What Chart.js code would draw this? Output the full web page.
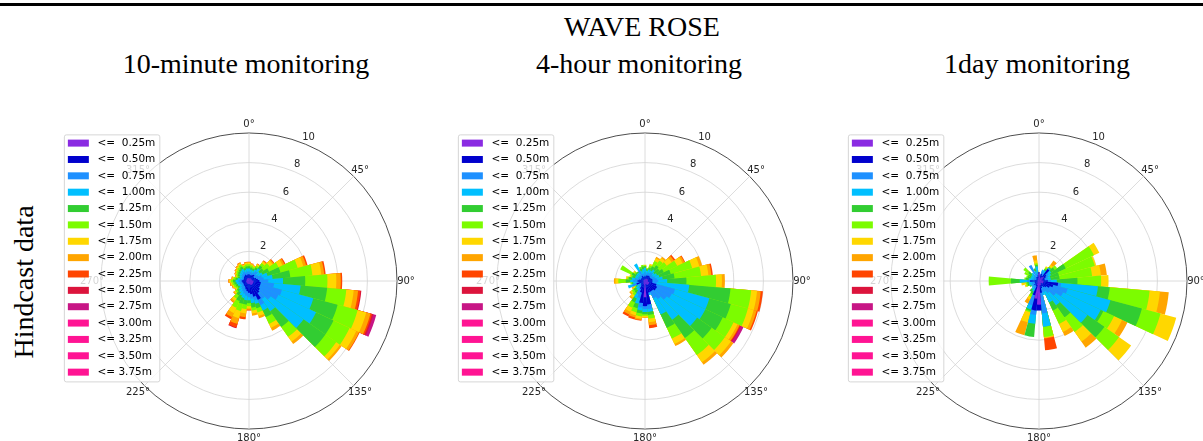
<!DOCTYPE html>
<html>
<head>
<meta charset="utf-8">
<script src="https://cdn.jsdelivr.net/npm/chart.js@4.4.1/dist/chart.umd.min.js"></script>
<style>
  html, body { margin: 0; padding: 0; background: #fff; overflow: hidden; }
  #page { position: relative; width: 1203px; height: 441px; overflow: hidden; }
  .rule { position: absolute; left: 0; top: 3px; width: 1203px; height: 3px; background: #000; }
  .caption { position: absolute; font-family: "Liberation Serif", serif; font-size: 28px; color: #000;
             white-space: nowrap; transform: translateX(-50%); line-height: 28px; }
  .side { position: absolute; left: 24px; top: 282px; font-family: "Liberation Serif", serif; font-size: 28px;
          white-space: nowrap; transform: translate(-50%, -50%) rotate(-90deg); line-height: 28px; }
  canvas { position: absolute; }
</style>
</head>
<body>
<div id="page">
  <div class="rule"></div>
  <div class="caption" style="left:642px; top:13px;">WAVE ROSE</div>
  <div class="caption" style="left:246px; top:50px;">10-minute monitoring</div>
  <div class="caption" style="left:639px; top:50px;">4-hour monitoring</div>
  <div class="caption" style="left:1037px; top:50px;">1day monitoring</div>
  <div class="side">Hindcast data</div>
</div>
<script>
// wave direction sectors (deg, centre of each 10 deg bin)
const directions = [0, 10, 20, 30, 40, 50, 60, 70, 80, 90, 100, 110, 120, 130, 140, 150, 160, 170,
                    180, 190, 200, 210, 220, 230, 240, 250, 260, 270, 280, 290, 300, 310, 320, 330, 340, 350];

const heightClasses = [' <=  0.25m', ' <=  0.50m', ' <=  0.75m', ' <=  1.00m', ' <= 1.25m', ' <= 1.50m',
                       ' <= 1.75m', ' <= 2.00m', ' <= 2.25m', ' <= 2.50m', ' <= 2.75m', ' <= 3.00m',
                       ' <= 3.25m', ' <= 3.50m', ' <= 3.75m'];

const classColours = ['#8a2be2', '#0000cd', '#1e90ff', '#00bfff', '#32cd32', '#7cfc00', '#ffd700', '#ffa500',
                      '#ff4500', '#dc143c', '#c71585', '#ff1493', '#ff1493', '#ff1493', '#ff1493'];

const angleLabels = ['0°', '45°', '90°', '135°', '180°', '225°', '270°', '315°'];
const ringValues = [2, 4, 6, 8, 10];

// cumulative frequency (%) at the top of each height class, one row per direction
const tenMinuteRose = [
  [0.2, 0.45, 0.65, 0.85, 1.0, 1.14, 1.23, 1.29, 1.3],
  [0.18, 0.42, 0.6, 0.78, 0.92, 1.06, 1.14, 1.19, 1.2],
  [0.17, 0.4, 0.58, 0.75, 0.88, 0.98, 1.05, 1.09, 1.1],
  [0.2, 0.46, 0.66, 0.86, 1.02, 1.15, 1.24, 1.29, 1.3],
  [0.22, 0.52, 0.8, 1.05, 1.28, 1.48, 1.6, 1.68, 1.72],
  [0.2, 0.4, 0.6, 0.9, 1.2, 1.7, 1.95, 2.05, 2.1],
  [0.2, 0.4, 0.7, 1.0, 1.5, 2.2, 2.5, 2.65, 2.72],
  [0.2, 0.5, 0.9, 1.3, 2.2, 3.4, 3.8, 4.0, 4.1],
  [0.2, 0.6, 1.0, 1.6, 2.8, 4.3, 4.9, 5.1, 5.2],
  [0.3, 0.7, 1.3, 2.3, 3.8, 5.3, 5.9, 6.2, 6.3],
  [0.3, 0.8, 1.7, 3.5, 5.3, 6.6, 7.1, 7.4, 7.55, 7.62],
  [0.3, 0.8, 2.3, 4.5, 6.2, 7.6, 8.2, 8.5, 8.6, 8.7, 8.9],
  [0.3, 0.8, 2.2, 5.0, 6.3, 7.5, 8.0, 8.2, 8.25],
  [0.3, 0.9, 1.8, 4.5, 6.3, 7.2, 7.5, 7.65],
  [0.3, 1.0, 1.5, 2.5, 3.8, 4.6, 5.0, 5.2],
  [0.3, 1.4, 1.8, 2.2, 2.7, 3.2, 3.5, 3.7],
  [0.25, 1.1, 1.35, 1.6, 1.9, 2.2, 2.45, 2.6],
  [0.2, 0.9, 1.2, 1.5, 1.8, 2.0, 2.2, 2.35],
  [0.2, 0.8, 1.1, 1.3, 1.5, 1.7, 1.85, 1.95, 2.0],
  [0.2, 0.7, 1.0, 1.3, 1.6, 1.9, 2.2, 2.45, 2.6],
  [0.2, 0.6, 0.9, 1.2, 1.6, 2.1, 2.6, 3.0, 3.25, 3.3],
  [0.2, 0.5, 0.8, 1.1, 1.5, 2.0, 2.4, 2.7, 2.85],
  [0.2, 0.45, 0.7, 0.95, 1.2, 1.45, 1.65, 1.78, 1.8],
  [0.2, 0.45, 0.65, 0.85, 1.0, 1.14, 1.23, 1.29, 1.3],
  [0.17, 0.39, 0.55, 0.72, 0.85, 0.97, 1.05, 1.09, 1.1],
  [0.18, 0.42, 0.6, 0.78, 0.92, 1.06, 1.14, 1.19, 1.2],
  [0.2, 0.45, 0.65, 0.85, 1.0, 1.14, 1.23, 1.29, 1.3],
  [0.21, 0.49, 0.7, 0.91, 1.08, 1.23, 1.33, 1.39, 1.4],
  [0.18, 0.42, 0.6, 0.78, 0.92, 1.06, 1.14, 1.19, 1.2],
  [0.15, 0.35, 0.5, 0.65, 0.77, 0.88, 0.95, 0.99, 1.0],
  [0.17, 0.39, 0.55, 0.72, 0.85, 0.97, 1.05, 1.09, 1.1],
  [0.18, 0.42, 0.6, 0.78, 0.92, 1.06, 1.14, 1.19, 1.2],
  [0.2, 0.45, 0.65, 0.85, 1.0, 1.14, 1.23, 1.29, 1.3],
  [0.21, 0.49, 0.7, 0.91, 1.08, 1.23, 1.33, 1.39, 1.4],
  [0.18, 0.42, 0.6, 0.78, 0.92, 1.06, 1.14, 1.19, 1.2],
  [0.2, 0.45, 0.65, 0.85, 1.0, 1.14, 1.23, 1.29, 1.3]
];

const fourHourRose = [
  [0.1, 0.35, 0.6, 0.9, 1.0, 1.05, 1.1],
  [0.1, 0.3, 0.5, 0.7, 0.8, 0.85, 0.9],
  [0.15, 0.4, 0.6, 0.8, 0.95, 1.1, 1.2],
  [0.15, 0.4, 0.6, 0.8, 1.1, 1.5, 1.7, 1.8],
  [0.2, 0.45, 0.7, 0.95, 1.3, 1.7, 1.9, 2.0],
  [0.2, 0.4, 0.6, 0.8, 1.2, 1.8, 2.2, 2.4, 2.5],
  [0.2, 0.4, 0.6, 0.9, 1.4, 2.4, 2.8, 2.95, 3.0],
  [0.2, 0.45, 0.7, 1.0, 1.8, 3.3, 3.8, 4.0],
  [0.2, 0.5, 0.8, 1.2, 2.0, 3.8, 4.3, 4.5, 4.6],
  [0.2, 0.5, 0.9, 1.5, 2.8, 4.8, 5.2, 5.4],
  [0.2, 0.5, 0.8, 3.0, 5.8, 7.2, 7.6, 7.85, 8.0],
  [0.3, 0.8, 2.1, 4.5, 6.0, 7.2, 7.6, 7.8, 7.9],
  [0.3, 0.9, 2.0, 4.5, 5.8, 6.6, 6.9, 7.05, 7.1, 7.15, 7.35],
  [0.3, 0.9, 1.8, 4.3, 5.5, 6.6, 7.1, 7.3],
  [0.3, 0.8, 1.5, 3.2, 4.7, 6.1, 6.7, 6.9],
  [0.3, 0.8, 1.3, 2.5, 3.5, 4.3, 4.7, 4.85],
  [0.2, 0.8, 0.9, 1.0],
  [0.2, 1.6, 1.9, 2.1, 2.3, 2.55, 2.8, 3.0, 3.2],
  [1.1, 1.7, 1.9, 2.1, 2.25, 2.35, 2.45, 2.5],
  [0.3, 1.5, 1.8, 2.0, 2.2, 2.4, 2.55, 2.65, 2.7],
  [0.2, 0.8, 1.2, 1.6, 1.9, 2.2, 2.4, 2.55, 2.7],
  [0.2, 0.6, 1.0, 1.3, 1.6, 2.0, 2.3, 2.5, 2.65],
  [0.15, 0.4, 0.6, 0.8, 1.0, 1.2, 1.4, 1.5],
  [0.1, 0.35, 0.55, 0.75, 0.95, 1.1, 1.2, 1.3],
  [0.1, 0.3, 0.45, 0.6, 0.7, 0.8, 0.9, 1.0],
  [0.1, 0.6, 0.9, 1.2],
  [0.1, 0.4, 0.6, 0.8, 0.9, 1.0],
  [0.1, 0.5, 0.8, 1.0, 1.3, 1.8, 2.0, 2.1],
  [0.1, 0.4, 0.7, 0.9, 1.1, 1.2, 1.3],
  [0.1, 0.3, 0.5, 0.7, 0.9, 1.0, 1.1],
  [0.1, 0.3, 0.5, 0.7, 1.0, 1.85],
  [0.1, 0.3, 0.5, 0.7, 0.8, 0.9, 1.0],
  [0.1, 0.3, 0.5, 0.7, 0.8],
  [0.1, 0.4, 0.8, 1.3],
  [0.1, 0.3, 0.5, 0.7, 0.9, 1.0],
  [0.1, 0.3, 0.5, 0.8, 1.0, 1.1]
];

const oneDayRose = [
  [0.5, 0.6],
  [0.3, 0.4, 0.5],
  [0.2, 0.5, 0.7, 0.8],
  [0.2, 0.4, 0.6, 0.8, 0.9, 1.0, 1.1],
  [0.3, 1.0, 1.05, 1.1, 1.15, 1.2, 1.35, 1.7],
  [0.4, 0.6, 0.8, 1.0, 1.3, 1.5],
  [0.3, 0.5, 0.7, 0.9, 2.0, 4.1, 4.5],
  [0.2, 0.4, 0.6, 0.8, 1.4, 3.9, 4.0],
  [0.2, 0.4, 0.6, 0.8, 1.4, 3.6, 4.2, 4.6],
  [0.3, 0.6, 0.8, 1.2, 2.6, 4.2, 4.7],
  [0.3, 1.3, 1.5, 4.0, 4.8, 7.5, 8.2, 8.8],
  [0.3, 1.0, 2.0, 5.0, 7.2, 8.5, 9.6],
  [0.3, 0.8, 1.8, 4.6, 4.8, 5.6, 6.2, 6.6],
  [0.2, 0.6, 1.4, 4.0, 5.4, 6.6, 7.6],
  [0.2, 0.5, 1.0, 2.0, 3.0, 4.2, 5.0, 5.5],
  [0.2, 0.4, 0.8, 1.6, 2.2, 3.2, 3.8, 4.1],
  [0.3, 0.5, 0.8, 1.0],
  [0.3, 0.8, 2.2, 3.1, 3.1, 3.8, 3.85, 3.9, 4.7],
  [1.6, 2.0],
  [1.2, 2.0, 2.3, 2.9, 3.8],
  [0.3, 1.0, 1.7, 2.0, 2.1, 2.2, 2.9, 3.8],
  [0.2, 0.4, 0.6, 0.8, 1.0, 1.2, 1.4, 1.7],
  [0.1, 0.3, 0.5, 0.7, 0.9],
  [0.2, 0.4, 0.6],
  [0.1, 0.3, 0.5, 0.6, 0.7],
  [0.1, 0.3, 0.5, 0.7, 0.8, 0.9, 1.0],
  [0.1, 0.3, 0.5, 0.7, 0.8, 0.9, 1.2],
  [0.1, 0.6, 0.8, 1.3, 1.9, 3.4],
  [0.1, 0.3, 0.5, 0.7, 0.9, 1.0],
  [0.1, 0.2, 0.4, 0.6, 0.8, 0.9],
  [0.1, 0.2, 0.4, 0.6, 0.8, 1.1],
  [0.1, 0.2, 0.4, 0.6, 0.9, 1.3],
  [0.1, 0.3, 0.5, 0.7],
  [0.1, 0.3, 1.2],
  [0.1, 0.3, 0.5, 0.7, 0.9],
  [0.2, 0.4, 0.6, 1.0, 1.1, 1.2, 1.4, 1.75]
];

// where each rose sits on the page (canvas box, legend starts at its left edge)
const panels = [
  { rose: tenMinuteRose, left: 62, width: 374 },
  { rose: fourHourRose, left: 456, width: 378 },
  { rose: oneDayRose, left: 846, width: 386 }
];
const panelTop = 132;
const panelHeight = 297;
const gridMargin = 20;   // extra room round the grid layer for the angle labels

Chart.defaults.font.family = '"DejaVu Sans", sans-serif';
Chart.defaults.color = '#262626';

// angle labels and ring values, placed through the radial scale
const axisText = {
  id: 'axisText',
  afterDraw(chart) {
    const r = chart.scales.r;
    const ctx = chart.ctx;
    ctx.save();
    ctx.font = '10px "DejaVu Sans"';
    ctx.fillStyle = '#262626';
    ctx.textAlign = 'center';
    ctx.textBaseline = 'middle';
    angleLabels.forEach((t, i) => {
      const p = r.getPointPosition(i, r.drawingArea + 9);
      ctx.fillText(t, p.x, p.y);
    });
    ringValues.forEach(v => {
      const p = r.getPointPosition(0, r.getDistanceFromCenterForValue(v) + 7.5, Math.PI / 8);
      ctx.fillText(String(v), p.x, p.y);
    });
    ctx.restore();
  }
};

// matplotlib-like translucent frame behind the legend
const legendFrame = {
  id: 'legendFrame',
  beforeDraw(chart) {
    const boxes = chart.legend && chart.legend.legendHitBoxes;
    if (!boxes || !boxes.length) return;
    const left = Math.min(...boxes.map(b => b.left)) - 4;
    const top = Math.min(...boxes.map(b => b.top)) - 3.5;
    const right = Math.max(...boxes.map(b => b.left + b.width)) + 4;
    const bottom = Math.max(...boxes.map(b => b.top + b.height)) + 4;
    const ctx = chart.ctx;
    ctx.save();
    ctx.beginPath();
    ctx.roundRect(left + 0.5, top + 0.5, right - left, bottom - top, 2);
    ctx.fillStyle = 'rgba(255,255,255,0.8)';
    ctx.fill();
    ctx.strokeStyle = 'rgba(204,204,204,0.8)';
    ctx.lineWidth = 1;
    ctx.stroke();
    ctx.restore();
  }
};

const page = document.getElementById('page');

function makeCanvas(left, top, width, height) {
  const c = document.createElement('canvas');
  c.width = width;
  c.height = height;
  c.style.left = left + 'px';
  c.style.top = top + 'px';
  c.style.width = width + 'px';
  c.style.height = height + 'px';
  page.appendChild(c);
  return c;
}

panels.forEach(p => {
  // grid layer, taller canvas so the 0° / 180° labels are not clipped
  new Chart(makeCanvas(p.left, panelTop - gridMargin, p.width, panelHeight + 2 * gridMargin), {
    type: 'radar',
    data: { labels: angleLabels, datasets: [] },
    options: {
      responsive: false,
      animation: false,
      devicePixelRatio: 1,
      layout: { padding: { top: 1 + gridMargin, bottom: gridMargin } },
      plugins: { legend: { display: false }, tooltip: { enabled: false } },
      scales: {
        r: {
          min: 0,
          max: 10,
          ticks: { stepSize: 2, display: false },
          grid: {
            circular: true,
            color: c => c.tick && c.tick.value === 10 ? '#3a3a3a' : '#d3d3d3',
            lineWidth: c => c.tick && c.tick.value === 10 ? 0.9 : 0.8
          },
          angleLines: { color: '#d3d3d3', lineWidth: 0.8 },
          pointLabels: { display: false }
        }
      }
    },
    plugins: [axisText]
  });

  // stacked bars: each class drawn to its cumulative radius, smaller classes on top
  const datasets = heightClasses.map((label, k) => ({
    label: label,
    data: p.rose.map(row => k < row.length ? row[k] : 0),
    backgroundColor: classColours[k],
    borderWidth: 0
  }));

  new Chart(makeCanvas(p.left, panelTop, p.width, panelHeight), {
    type: 'polarArea',
    data: { labels: directions.map(d => d + '°'), datasets: datasets },
    options: {
      responsive: false,
      animation: false,
      devicePixelRatio: 1,
      layout: { padding: { top: 1 } },
      scales: {
        r: {
          min: 0,
          max: 10,
          startAngle: -5,
          ticks: { display: false },
          grid: { display: false },
          angleLines: { display: false },
          pointLabels: { display: false }
        }
      },
      plugins: {
        tooltip: { enabled: false },
        legend: {
          position: 'chartArea',
          align: 'start',
          labels: {
            boxWidth: 21,
            boxHeight: 7,
            padding: 5.86,
            color: '#262626',
            font: { size: 10.5 },
            generateLabels: chart => chart.data.datasets.map((ds, i) => ({
              text: ds.label,
              fillStyle: ds.backgroundColor,
              strokeStyle: ds.backgroundColor,
              lineWidth: 0,
              hidden: false,
              datasetIndex: i
            }))
          }
        }
      }
    },
    plugins: [legendFrame]
  });
});
</script>
</body>
</html>
